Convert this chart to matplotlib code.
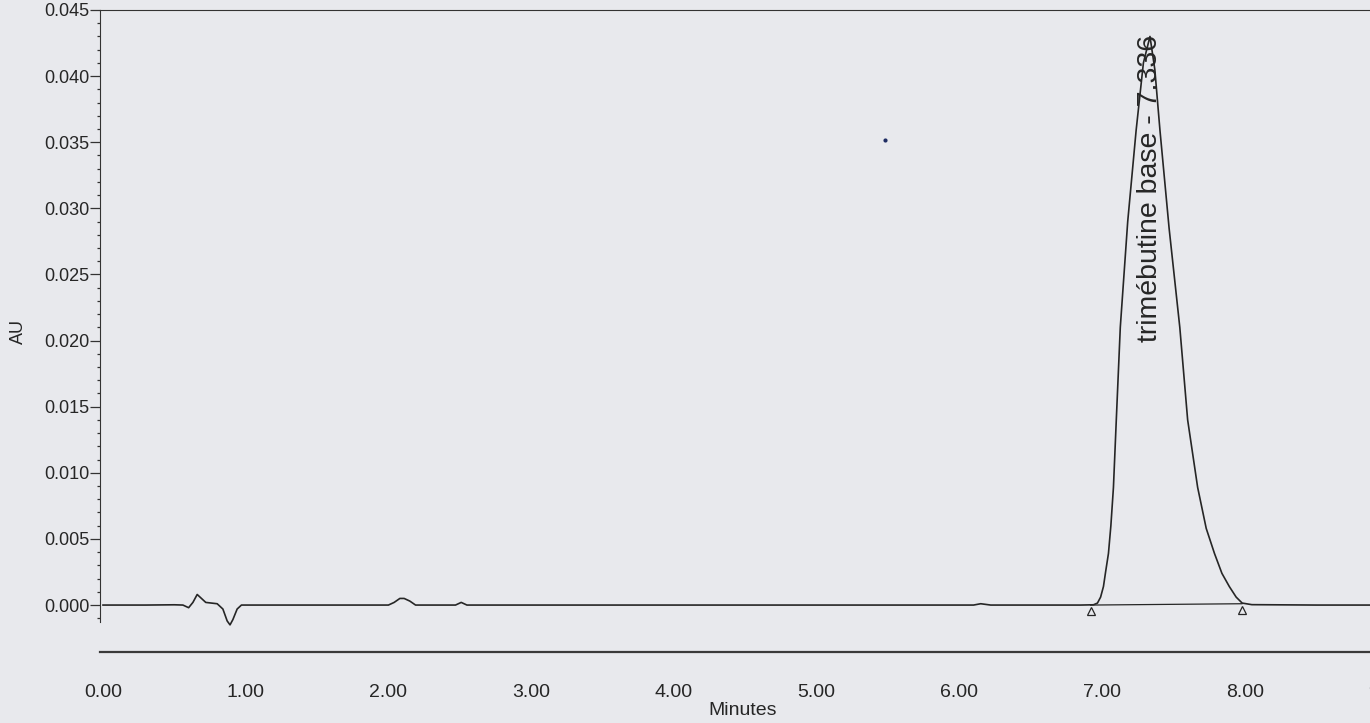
import matplotlib
matplotlib.use("Agg")
import matplotlib.pyplot as plt
from matplotlib.ticker import FixedLocator, FormatStrFormatter

# chromatogram trace: retention time (min) and absorbance (AU)
time_min = [
    0.00, 0.30, 0.50, 0.56, 0.60, 0.63, 0.66, 0.69, 0.72, 0.76, 0.80, 0.84,
    0.87, 0.89, 0.91, 0.94, 0.97, 1.00, 1.50, 2.00, 2.04, 2.08, 2.11, 2.15,
    2.19, 2.30, 2.47, 2.51, 2.55, 3.00, 4.00, 5.00, 6.00, 6.10, 6.15, 6.22,
    6.85, 6.94, 6.968, 6.99, 7.010, 7.025, 7.045, 7.062, 7.080, 7.100, 7.128,
    7.18, 7.239, 7.29, 7.336, 7.37, 7.406, 7.47, 7.545, 7.600, 7.670, 7.73,
    7.788, 7.84, 7.892, 7.94, 7.982, 8.05, 8.50, 8.90,
]
absorbance = [
    0.0, 0.0, 0.00002, 0.0, -0.0002, 0.0002, 0.0008, 0.0005, 0.0002, 0.00015,
    0.0001, -0.0003, -0.0012, -0.0015, -0.0011, -0.0003, 0.0, 0.0, 0.0, 0.0,
    0.0002, 0.0005, 0.0005, 0.0003, 0.0, 0.0, 0.0, 0.0002, 0.0, 0.0, 0.0,
    0.0, 0.0, 0.0, 0.0001, 0.0,
    0.0, 0.00002, 0.00015, 0.0006, 0.0014, 0.0025, 0.0039, 0.0060, 0.0089,
    0.0140, 0.0210, 0.0290, 0.0359, 0.0410, 0.0430, 0.0405, 0.0359, 0.0285,
    0.0210, 0.0140, 0.0089, 0.0058, 0.0039, 0.0024, 0.0014, 0.0006, 0.00015,
    0.00003, 0.0, 0.0,
]

# integration marks for the main peak
peak_name = "trimébutine base"
peak_rt = 7.336
label_start_au = 0.0199
peak_start = (6.92, 0.0)
peak_end = (7.98, 0.0001)
speck = (5.48, 0.0352)

x_ticks = [0, 1, 2, 3, 4, 5, 6, 7, 8, 9]
y_ticks = [0.000, 0.005, 0.010, 0.015, 0.020, 0.025, 0.030, 0.035, 0.040, 0.045]
y_minor = [i / 1000 for i in range(-1, 45)]

paper = "#e8e9ed"
ink = "#262626"

plt.rcParams["font.family"] = ["Liberation Sans", "DejaVu Sans"]

fig = plt.figure(figsize=(13.7, 7.23), dpi=100, facecolor=paper)
ax = fig.add_axes([100 / 1370, 71 / 723, 1316 / 1370, 642 / 723])
ax.set_facecolor(paper)

ax.plot(time_min, absorbance, color=ink, lw=1.2, solid_joinstyle="round")
ax.plot([peak_start[0], peak_end[0]], [peak_start[1], peak_end[1]], color=ink, lw=0.9)
ax.plot([peak_start[0], peak_end[0]], [peak_start[1] - 0.00045, peak_end[1] - 0.00045],
        ls="none", marker="^", ms=6, mfc="none", mec=ink, mew=0.9)
ax.plot(*speck, marker="o", ms=3, color="#1f2d63", mec="none")

ax.text(peak_rt, label_start_au, f"{peak_name} - {peak_rt:.3f}", rotation=90,
        rotation_mode="anchor", ha="left", va="center", fontsize=20.5, color=ink)

ax.set_xlim(-0.021, 9.2)
ax.set_ylim(-0.00355, 0.045)

ax.spines["right"].set_visible(False)
for side in ("top", "left"):
    ax.spines[side].set_linewidth(0.8)
    ax.spines[side].set_color("#333333")
ax.spines["bottom"].set_linewidth(1.6)
ax.spines["bottom"].set_color("#3a3a3a")
ax.spines["left"].set_bounds(-0.0013, 0.045)

ax.xaxis.set_major_locator(FixedLocator(x_ticks))
ax.xaxis.set_major_formatter(FormatStrFormatter("%.2f"))
ax.tick_params(axis="x", length=0, pad=23, labelsize=14, labelcolor=ink)

ax.yaxis.set_major_locator(FixedLocator(y_ticks))
ax.yaxis.set_minor_locator(FixedLocator(y_minor))
ax.yaxis.set_major_formatter(FormatStrFormatter("%.3f"))
ax.tick_params(axis="y", which="major", length=7, width=0.9, pad=0.5,
               labelsize=13, labelcolor=ink, color="#333333")
ax.tick_params(axis="y", which="minor", length=2.5, width=0.9, color="#333333")

ax.set_xlabel("Minutes", fontsize=14, color=ink)
ax.xaxis.set_label_coords(0.488, -0.078)
ax.set_ylabel("AU", fontsize=13, color=ink)
ax.yaxis.set_label_coords(-0.0555, 0.5)

fig.savefig("out.png", dpi=100, facecolor=paper)
